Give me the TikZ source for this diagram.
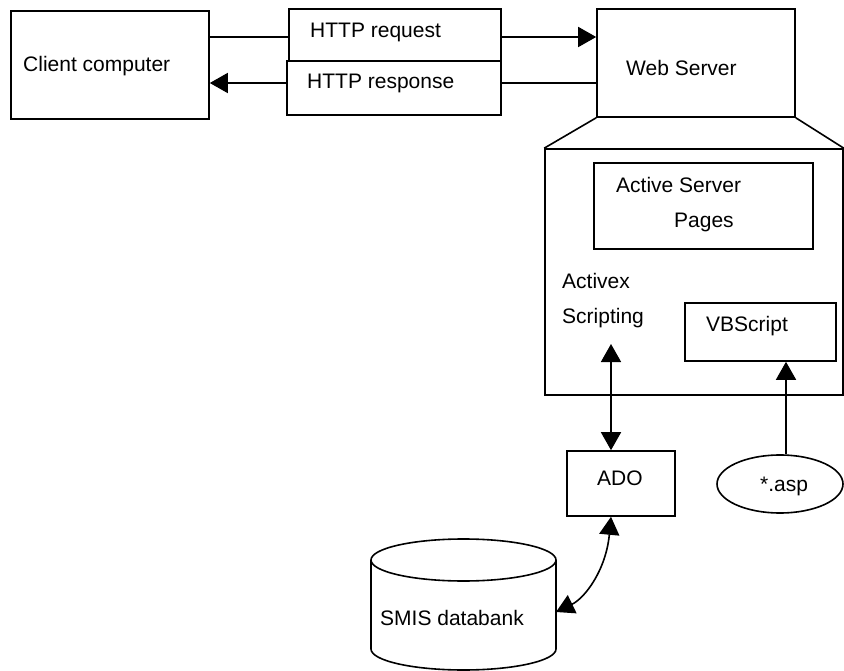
\documentclass[tikz,border=0pt]{standalone}
\usepackage{fontspec}
\setmainfont{Liberation Sans}
\usetikzlibrary{positioning,shapes.geometric,arrows.meta}

\tikzset{
  box/.style={rectangle, draw, line width=1.6pt, inner sep=0pt},
  txt/.style={anchor=west, inner sep=0pt, text height=15pt, text depth=4pt, font=\fontsize{21pt}{25pt}\selectfont},
  line/.style={line width=1.6pt},
  arr/.style={line width=1.6pt, -{Triangle[length=18pt,width=20pt]}},
  dblarr/.style={line width=1.6pt, {Triangle[length=18pt,width=20pt]}-{Triangle[length=18pt,width=20pt]}},
}

\begin{document}
\begin{tikzpicture}[x=1pt, y=-1pt]
    \useasboundingbox (0,0) rectangle (844,671);

    % boxes
    \node[box, minimum width=198pt, minimum height=108pt] (client) at (110,65) {};
    \node[box, minimum width=212pt, minimum height=52pt] (req) at (395,35) {};
    \node[box, minimum width=214pt, minimum height=54pt] (resp) at (394,88) {};
    \node[box, minimum width=198pt, minimum height=108pt] (web) at (696,63) {};
    \node[box, minimum width=298pt, minimum height=246pt] (big) at (694,272) {};
    \node[box, minimum width=219pt, minimum height=86pt] (asp) at (703.5,206) {};
    \node[box, minimum width=151pt, minimum height=58pt] (vbs) at (760.5,332) {};
    \node[box, minimum width=108pt, minimum height=65pt] (ado) at (621,483.5) {};
    \node[ellipse, draw, line width=1.6pt, inner sep=0pt, minimum width=126pt, minimum height=58pt] (aspfile) at (780,484) {};

    % database
    \draw[line] (463.5,560) ellipse [x radius=92.5pt, y radius=21pt];
    \draw[line] (371,560) -- (371,649) arc[start angle=180, end angle=360, x radius=92.5pt, y radius=21pt] -- (556,560);
    \coordinate (dbin) at (556,612);
    \coordinate (axin) at (611,344);

    % texts
    \node[txt] (clienttxt) at (23,66) {Client computer};
    \node[txt] (reqtxt) at (310,32) {HTTP request};
    \node[txt] (resptxt) at (307,83) {HTTP response};
    \node[txt] (webtxt) at (626,70) {Web Server};
    \node[txt] (asptxt1) at (616,187) {Active Server};
    \node[txt] (asptxt2) at (674,222) {Pages};
    \node[txt] (axtxt1) at (562,283) {Activex};
    \node[txt] (axtxt2) at (562,318) {Scripting};
    \node[txt] (vbstxt) at (706,326) {VBScript};
    \node[txt] (adotxt) at (597,480) {ADO};
    \node[txt] (aspfiletxt) at (760,486) {*.asp};
    \node[txt] (dbtxt) at (380,620) {SMIS databank};

    % connectors
    \draw[line] ([yshift=-2pt]req.west) -- ([yshift=-2pt]req.west -| client.east);
    \draw[arr] ([yshift=-2pt]req.east) -- ([yshift=-2pt]req.east -| web.west);
    \draw[line] ([yshift=5pt]resp.east -| web.west) -- ([yshift=5pt]resp.east);
    \draw[arr] ([yshift=5pt]resp.west) -- ([yshift=5pt]resp.west -| client.east);
    \draw[line] (web.south west) -- (big.north west);
    \draw[line] (web.south east) -- (big.north east);
    \draw[dblarr] (axin) -- ([xshift=-10pt]ado.north);
    \draw[arr] ([xshift=6pt]aspfile.north) -- ([xshift=6pt]aspfile.north |- vbs.south);
    \draw[dblarr] ([xshift=-10pt]ado.south) .. controls (606,570) and (585,598) .. (dbin);
\end{tikzpicture}
\end{document}
